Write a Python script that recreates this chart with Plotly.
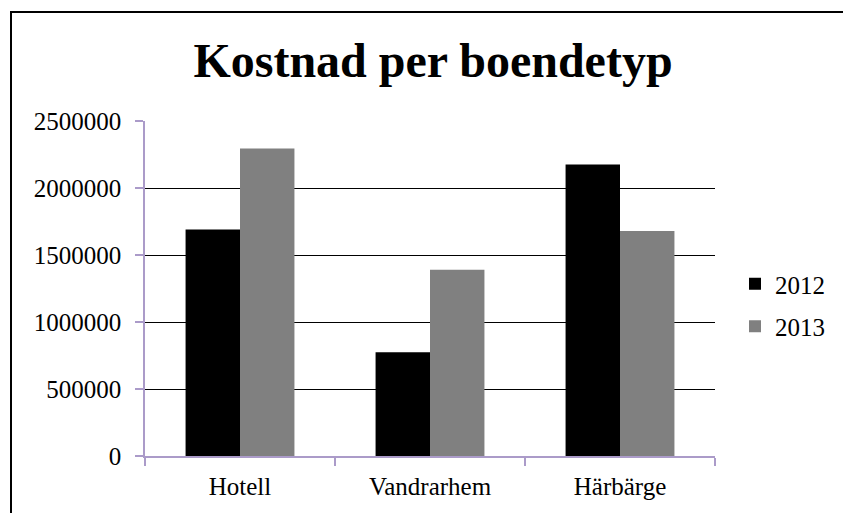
import plotly.graph_objects as go

categories = ["Hotell", "Vandrarhem", "Härbärge"]
series_names = ["2012", "2013"]
values_2012 = [1690000, 775000, 2175000]
values_2013 = [2295000, 1390000, 1680000]
y_ticks = [0, 500000, 1000000, 1500000, 2000000, 2500000]
title_text = "Kostnad per boendetyp"

W, H = 843, 513
L, R, T, B = 145, 128, 121, 57
pw, ph = W - L - R, H - T - B

def px_x(p):
    return (p - L) / pw

def px_y(p):
    return (H - B - p) / ph

FONT = "Liberation Serif, Times New Roman, serif"
AXIS_COL = "#ab9bc9"

fig = go.Figure()
fig.add_trace(go.Bar(x=categories, y=values_2012, name=series_names[0],
                     marker=dict(color="#000000", line=dict(width=0)), legendgroup="a"))
fig.add_trace(go.Bar(x=categories, y=values_2013, name=series_names[1],
                     marker=dict(color="#808080", line=dict(width=0)), legendgroup="b"))

fig.update_layout(
    width=W, height=H,
    margin=dict(l=L, r=R, t=T, b=B, pad=0),
    paper_bgcolor="white", plot_bgcolor="white",
    barmode="group", bargap=0.427, bargroupgap=0,
    font=dict(family=FONT, size=25, color="black"),
    title=dict(text="<b>" + title_text + "</b>", font=dict(family=FONT, size=48, color="black"),
               x=px_x(433), xref="paper", xanchor="center",
               y=1 - 60 / H, yref="container", yanchor="middle"),
    legend=dict(x=px_x(735), xanchor="left", y=px_y(305), yanchor="middle",
                font=dict(family=FONT, size=25, color="black"),
                bgcolor="rgba(0,0,0,0)", borderwidth=0,
                tracegroupgap=7, itemwidth=30),
    showlegend=True,
)
fig.update_xaxes(
    type="category", showline=True, linecolor=AXIS_COL, linewidth=1.5,
    ticks="outside", ticklen=8, tickcolor=AXIS_COL, tickwidth=1.5,
    tickson="boundaries", showgrid=False, zeroline=False,
    tickfont=dict(family=FONT, size=25, color="black"),
    ticklabelstandoff=7,
)
fig.update_yaxes(
    range=[0, 2500000], tickvals=y_ticks, ticktext=[str(v) for v in y_ticks],
    showline=True, linecolor=AXIS_COL, linewidth=1.5,
    ticks="outside", ticklen=8, tickcolor=AXIS_COL, tickwidth=1.5,
    showgrid=True, gridcolor="black", gridwidth=1.3, zeroline=False,
    tickfont=dict(family=FONT, size=25, color="black"),
    ticklabelstandoff=9,
)
fig.add_shape(type="rect", xref="paper", yref="paper",
              x0=px_x(11), x1=px_x(860), y0=px_y(530), y1=px_y(12),
              line=dict(color="black", width=2), fillcolor="rgba(0,0,0,0)", layer="above")

fig.write_html("out.html", config={"displayModeBar": False},
               post_script="document.body.style.margin='0';document.body.style.overflow='hidden';")
